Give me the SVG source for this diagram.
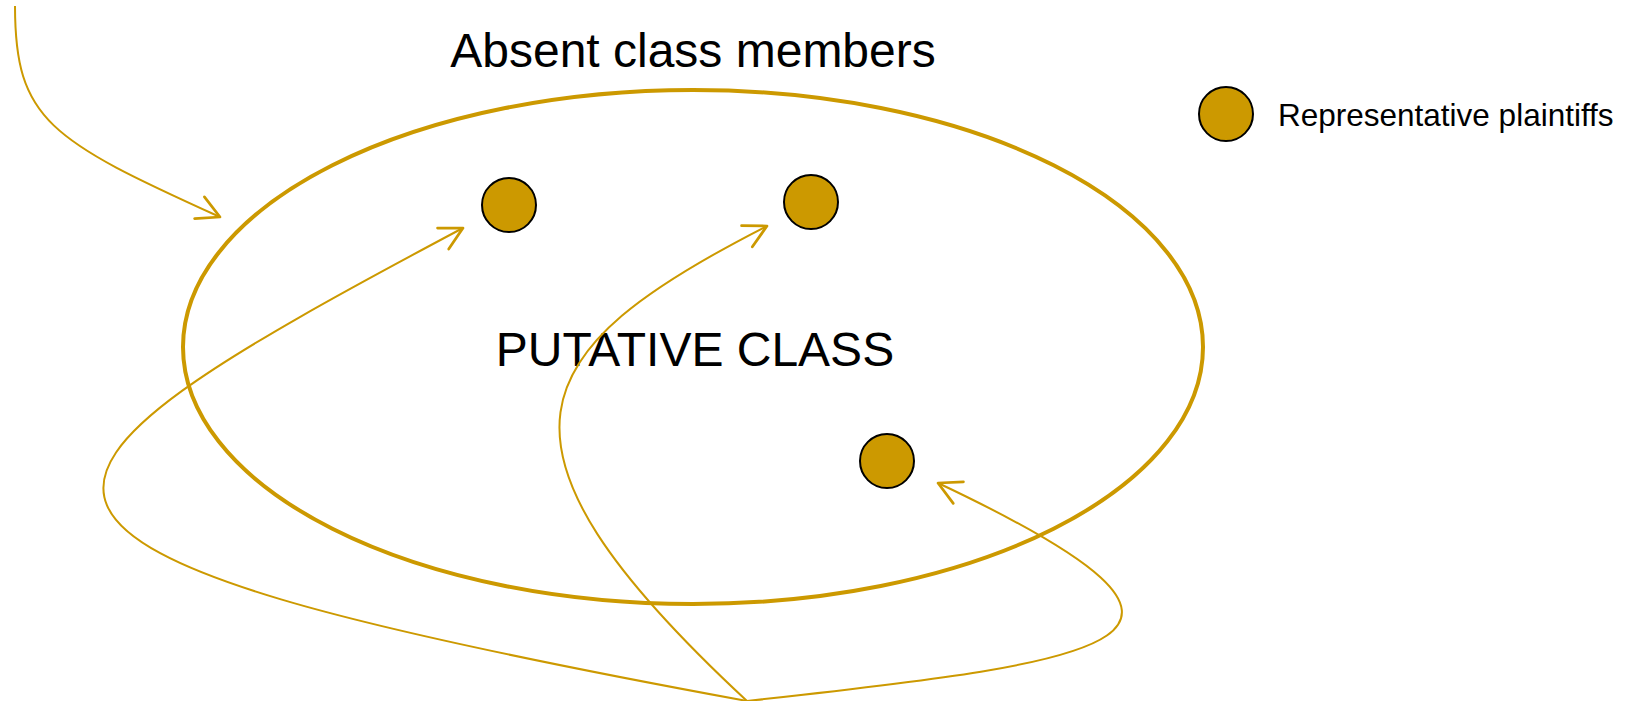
<svg xmlns="http://www.w3.org/2000/svg" width="1633" height="701" viewBox="0 0 1633 701">
<style>
.conn{fill:none;stroke:#CC9900;stroke-width:2;marker-end:url(#arr)}
.node{fill:#CC9900;stroke:#000;stroke-width:2}
.lbl{font-family:"Liberation Sans",Arial,sans-serif;fill:#000}
</style>
<defs>
<marker id="arr" markerUnits="userSpaceOnUse" markerWidth="30" markerHeight="30" refX="0" refY="0" viewBox="-22 -12 24 24" orient="auto" overflow="visible">
<path d="M-18,-9.5 L0,0 L-18,9.5" fill="none" stroke="#CC9900" stroke-width="2.2" stroke-linecap="round" stroke-linejoin="round"/>
</marker>
</defs>
<rect width="1633" height="701" fill="#fff"/>
<g id="putative-class">
<ellipse cx="693" cy="347" rx="510" ry="257" fill="none" stroke="#CC9900" stroke-width="4"/>
<text class="lbl" x="695" y="366" font-size="48" text-anchor="middle">PUTATIVE CLASS</text>
</g>
<g id="absent-label">
<text class="lbl" x="693" y="67" font-size="48" text-anchor="middle">Absent class members</text>
</g>
<g id="plaintiff-1"><circle class="node" cx="509" cy="205" r="27"/></g>
<g id="plaintiff-2"><circle class="node" cx="811" cy="202" r="27"/></g>
<g id="plaintiff-3"><circle class="node" cx="887" cy="461" r="27"/></g>
<g id="legend">
<circle class="node" cx="1226" cy="114" r="27"/>
<text class="lbl" x="1278" y="126" font-size="31.5">Representative plaintiffs</text>
</g>
<g id="connectors">
<path class="conn" d="M15,6 C15,120 50,140 220,217"/>
<path class="conn" d="M747,701 C-88,548 -30,490 463,228"/>
<path class="conn" d="M747,701 C466,440 524,350 767,226"/>
<path class="conn" d="M747,701 C1120,660 1270,640 938,483"/>
</g>
</svg>
